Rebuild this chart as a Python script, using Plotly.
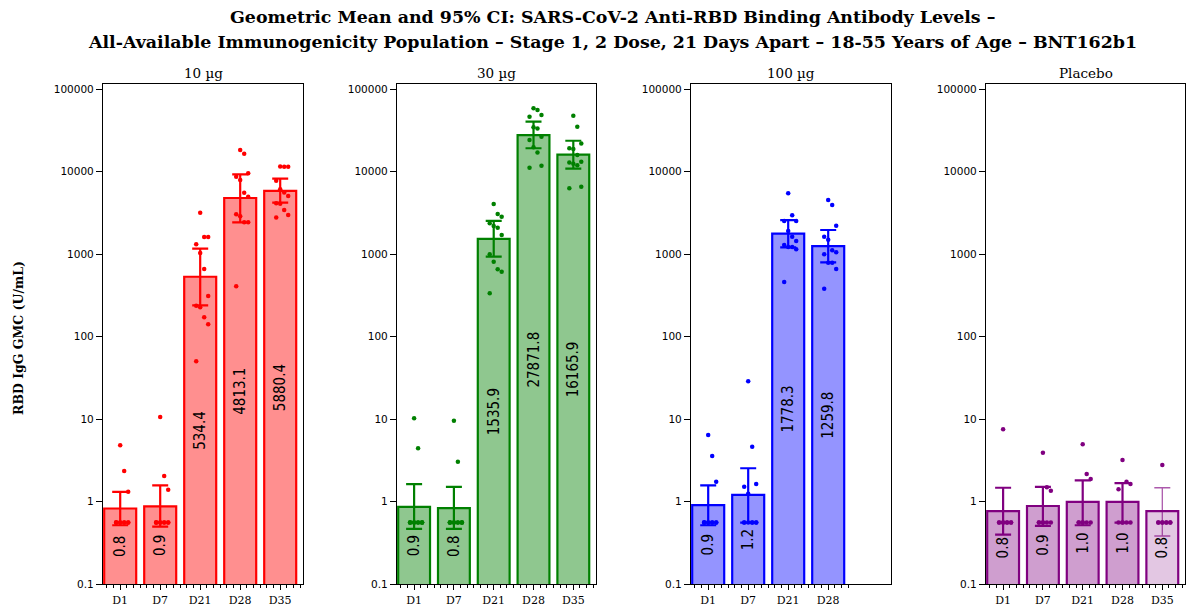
import plotly.graph_objects as go

# ---------------- data ----------------
days = ["D1", "D7", "D21", "D28", "D35"]
panel_titles = ["10 µg", "30 µg", "100 µg", "Placebo"]

gmc_10ug = [0.83, 0.88, 534.4, 4813.1, 5880.4]
lo_10ug = [0.52, 0.50, 241, 2440, 4220]
hi_10ug = [1.32, 1.58, 1170, 9330, 8250]
pts_10ug = [
    [4.84, 2.36, 1.32, 0.56, 0.56, 0.56, 0.56, 0.56, 0.56, 0.56, 0.56, 0.56],
    [10.7, 2.05, 1.4, 0.56, 0.56, 0.56, 0.56, 0.56, 0.56, 0.56, 0.56, 0.56],
    [3190, 1620, 1620, 1320, 1040, 663, 312, 238, 228, 172, 142, 50.5],
    [18400, 16600, 9600, 8720, 7950, 5580, 5000, 3050, 2900, 2440, 2440, 410],
    [11600, 11500, 11500, 7800, 6150, 5600, 5100, 4150, 4100, 3440, 3000, 2800],
]

gmc_30ug = [0.87, 0.84, 1535.9, 27871.8, 16165.9]
lo_30ug = [0.47, 0.47, 935, 19300, 10900]
hi_30ug = [1.64, 1.52, 2535, 40500, 23800]
pts_30ug = [
    [10.3, 4.45, 0.56, 0.56, 0.56, 0.56, 0.56, 0.56, 0.56, 0.56, 0.56, 0.56],
    [9.6, 3.06, 0.56, 0.56, 0.56, 0.56, 0.56, 0.56, 0.56, 0.56, 0.56, 0.56],
    [4070, 3080, 2850, 2380, 2200, 2100, 1710, 1000, 815, 660, 615, 337],
    [58900, 56100, 48700, 46500, 34600, 33600, 26600, 24300, 19800, 17100, 11800, 11200],
    [47900, 35200, 22000, 19300, 18900, 16000, 13250, 13000, 12500, 12000, 6600, 6300],
]

gmc_100ug = [0.91, 1.21, 1778.3, 1259.8]
lo_100ug = [0.52, 0.56, 1216, 800]
hi_100ug = [1.58, 2.55, 2600, 1970]
pts_100ug = [
    [6.45, 3.59, 1.75, 0.56, 0.56, 0.56, 0.56, 0.56, 0.56, 0.56, 0.56, 0.56],
    [28.9, 4.66, 1.64, 1.52, 1.25, 0.56, 0.56, 0.56, 0.56, 0.56, 0.56, 0.56],
    [5480, 2970, 2535, 2535, 1915, 1635, 1450, 1300, 1230, 1230, 1150, 461],
    [4550, 3950, 2220, 1635, 1500, 1120, 1060, 1000, 790, 790, 665, 383],
]

gmc_pbo = [0.77, 0.89, 1.0, 1.0, 0.77]
lo_pbo = [0.40, 0.51, 0.52, 0.56, 0.385]
hi_pbo = [1.48, 1.52, 1.82, 1.68, 1.48]
pts_pbo = [
    [7.57, 0.56, 0.56, 0.56, 0.56, 0.56, 0.56, 0.56, 0.56],
    [3.94, 1.5, 1.36, 0.56, 0.56, 0.56, 0.56, 0.56, 0.56],
    [4.98, 2.17, 1.89, 0.56, 0.56, 0.56, 0.56, 0.56, 0.56],
    [3.21, 1.75, 1.64, 1.42, 0.56, 0.56, 0.56, 0.56, 0.56],
    [2.79, 0.56, 0.56, 0.56, 0.56, 0.56, 0.56, 0.56, 0.56],
]

y_tickvals = [0.1, 1, 10, 100, 1000, 10000, 100000]
y_ticktext = ["0.1", "1", "10", "100", "1000", "10000", "100000"]

title_line1 = "Geometric Mean and 95% CI: SARS-CoV-2 Anti-RBD Binding Antibody Levels –"
title_line2 = ("All-Available Immunogenicity Population – Stage 1, 2 Dose, 21 Days Apart – "
               "18-55 Years of Age – BNT162b1")
y_title = "RBD IgG GMC (U/mL)"

# ---------------- styling ----------------
W, H = 1187, 614
panel_px = [(103, 303), (397, 596), (691, 891), (986, 1185)]
plot_top_px, plot_bot_px = 84, 584.3
edge_colors = ["#FF0000", "#008000", "#0000FF", "#800080"]
fill_colors = ["rgba(255,0,0,0.44)", "rgba(0,128,0,0.44)", "rgba(0,0,255,0.42)", "rgba(128,0,128,0.38)"]
faded_fill = "rgba(128,0,128,0.22)"
faded_err = "rgba(128,0,128,0.65)"

groups = [
    (gmc_10ug, lo_10ug, hi_10ug, pts_10ug),
    (gmc_30ug, lo_30ug, hi_30ug, pts_30ug),
    (gmc_100ug, lo_100ug, hi_100ug, pts_100ug),
    (gmc_pbo, lo_pbo, hi_pbo, pts_pbo),
]

serif = "DejaVu Serif"
sans = "DejaVu Sans"
bar_font = "Liberation Sans Narrow, DejaVu Sans Condensed, Liberation Sans, sans-serif"
jitter_cycle = [0.0, 0.1, 0.2, -0.1]

fig = go.Figure()
layout_axes = {}
annotations = []

ydom = [(H - plot_bot_px) / H, (H - plot_top_px) / H]
y_top_log = -1 + (plot_bot_px - plot_top_px) / 82.5

for p, (gmc, lo, hi, pts) in enumerate(groups):
    ax = "" if p == 0 else str(p + 1)
    xa, ya = "x" + ax, "y" + ax
    n = len(gmc)
    for i in range(n):
        faded = (p == 3 and i == n - 1)
        fig.add_trace(go.Bar(
            x=[i], y=[gmc[i]], width=0.8,
            xaxis=xa, yaxis=ya,
            marker=dict(color=faded_fill if faded else fill_colors[p],
                        line=dict(color=edge_colors[p], width=2.2)),
            text=[f"{gmc[i]:.1f}"], textposition="inside", insidetextanchor="middle",
            textangle=-90, insidetextfont=dict(family=bar_font, size=15, color="black"),
            constraintext="none", cliponaxis=False,
            error_y=dict(type="data", symmetric=False,
                         array=[hi[i] - gmc[i]], arrayminus=[gmc[i] - lo[i]],
                         color=faded_err if faded else edge_colors[p],
                         thickness=1.3 if faded else 2.2, width=8),
            showlegend=False, hoverinfo="skip",
        ))
    for i in range(n):
        xs = [i + jitter_cycle[k % len(jitter_cycle)] for k in range(len(pts[i]))]
        fig.add_trace(go.Scatter(
            x=xs, y=pts[i], mode="markers", xaxis=xa, yaxis=ya,
            marker=dict(size=4.5, color=edge_colors[p]),
            showlegend=False, hoverinfo="skip", cliponaxis=False,
        ))

    x0, x1 = panel_px[p]
    minor_vals = [k + j / 6 for k in range(n) for j in range(-3, 4) if j != 0]
    layout_axes["xaxis" + ax] = dict(
        domain=[x0 / W, x1 / W], anchor=ya, range=[-0.43, 4.57],
        tickmode="array", tickvals=list(range(n)), ticktext=days[:n],
        ticks="outside", ticklen=5, tickwidth=1, tickcolor="black",
        minor=dict(tickmode="array", tickvals=minor_vals, ticks="outside", ticklen=3,
                   tickwidth=1, tickcolor="black"),
        showline=True, mirror=True, linecolor="black", linewidth=1.2,
        showgrid=False, zeroline=False, automargin=False,
        tickfont=dict(family=serif, size=11, color="black"),
    )
    layout_axes["yaxis" + ax] = dict(
        domain=ydom, anchor=xa, type="log", range=[-1, y_top_log],
        tickmode="array", tickvals=y_tickvals, ticktext=y_ticktext,
        ticks="outside", ticklen=6, tickwidth=1, tickcolor="black",
        showline=True, mirror=True, linecolor="black", linewidth=1.2,
        showgrid=False, zeroline=False, automargin=False,
        tickfont=dict(family=sans, size=10.5, color="black"),
    )
    annotations.append(dict(
        text=panel_titles[p], x=(x0 + x1) / 2 / W, y=(H - 73) / H,
        xref="paper", yref="paper", xanchor="center", yanchor="middle",
        showarrow=False, font=dict(family=serif, size=13.5, color="black"),
    ))

annotations.append(dict(text=title_line1, x=613 / W, y=(H - 17) / H, xref="paper", yref="paper",
                        xanchor="center", yanchor="middle", showarrow=False,
                        font=dict(family=serif, size=17.4, color="black", weight="bold")))
annotations.append(dict(text=title_line2, x=613 / W, y=(H - 42) / H, xref="paper", yref="paper",
                        xanchor="center", yanchor="middle", showarrow=False,
                        font=dict(family=serif, size=17.4, color="black", weight="bold")))
annotations.append(dict(text=y_title, x=18 / W, y=(H - 338) / H, xref="paper", yref="paper",
                        xanchor="center", yanchor="middle", textangle=-90, showarrow=False,
                        font=dict(family=serif, size=12.5, color="black", weight="bold")))

fig.update_layout(
    width=W, height=H, margin=dict(l=0, r=0, t=0, b=0),
    paper_bgcolor="white", plot_bgcolor="white",
    barmode="overlay", showlegend=False, hovermode=False,
    annotations=annotations, template="none",
)
fig.update_layout(**layout_axes)

fig.write_html("out.html", config={"displayModeBar": False},
               post_script="document.body.style.margin='0';document.body.style.overflow='hidden';")
